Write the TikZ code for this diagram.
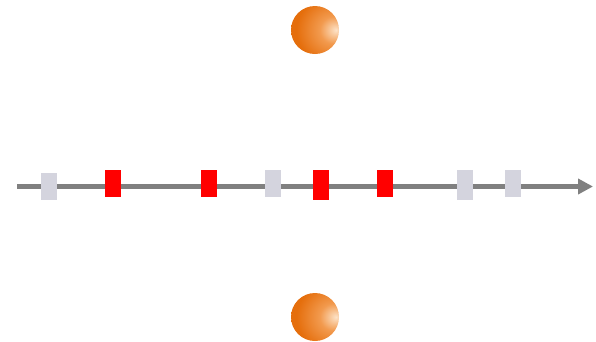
\documentclass[tikz,border=0pt]{standalone}
\usetikzlibrary{arrows.meta}
\definecolor{ballLight}{HTML}{FDE3C8}
\definecolor{ballMid}{HTML}{F29A4E}
\definecolor{ballDark}{HTML}{E56E0C}
\definecolor{axisGray}{HTML}{808080}
\definecolor{markGray}{HTML}{D4D4DE}
\definecolor{markRed}{HTML}{FF0000}
% orange sphere lit from the right
\pgfdeclareradialshading{orangeball}{\pgfpoint{22bp}{0bp}}{%
  color(0bp)=(ballLight); color(14bp)=(ballMid); color(34bp)=(ballDark);
  color(48bp)=(ballDark); color(100bp)=(ballDark)}
\tikzset{
  ball/.style={circle, inner sep=0pt, minimum size=48pt, shading=orangeball},
  tickbox/.style={rectangle, inner sep=0pt, minimum width=16pt, draw=none},
  graymark/.style={tickbox, fill=markGray},
  redmark/.style={tickbox, fill=markRed},
  axis/.style={draw=axisGray, line width=5pt, -{Triangle[length=15pt,width=15pt]}}
}
\begin{document}
\begin{tikzpicture}[x=1pt,y=-1pt]
  \useasboundingbox (0,0) rectangle (596,341);
  % axis
  \coordinate (axisStart) at (17,186.5);
  \coordinate (axisEnd) at (593,186.5);
  \draw[axis] (axisStart) -- (axisEnd);
  % markers on the axis
  \node[graymark, minimum height=27pt] (g1) at (49,186.5) {};
  \node[redmark,  minimum height=27pt] (r1) at (113,183.5) {};
  \node[redmark,  minimum height=27pt] (r2) at (209,183.5) {};
  \node[graymark, minimum height=27pt] (g2) at (273,183.5) {};
  \node[redmark,  minimum height=30pt] (r3) at (321,185) {};
  \node[redmark,  minimum height=27pt] (r4) at (385,183.5) {};
  \node[graymark, minimum height=30pt] (g3) at (465,185) {};
  \node[graymark, minimum height=27pt] (g4) at (513,183.5) {};
  % spheres above and below
  \node[ball] (ballTop) at (315,30) {};
  \node[ball] (ballBottom) at (315,317) {};
\end{tikzpicture}
\end{document}
